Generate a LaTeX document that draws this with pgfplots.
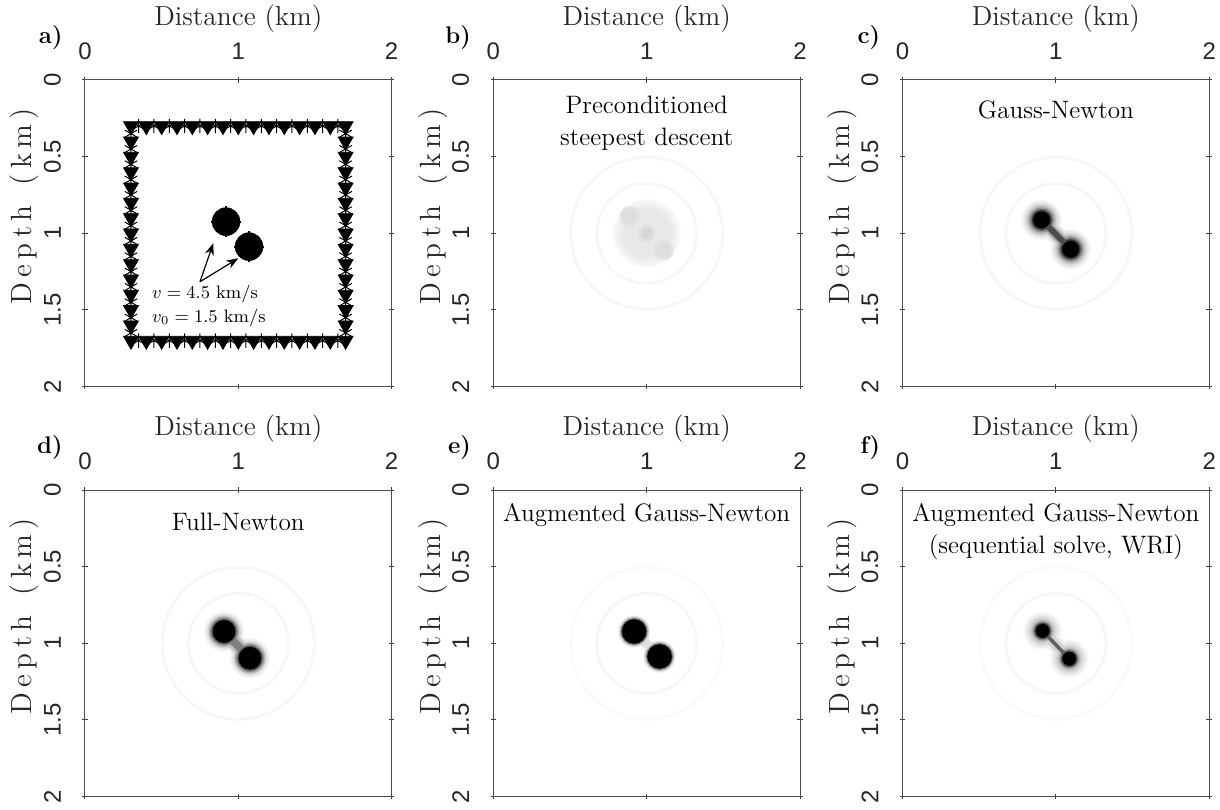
\documentclass[border=0pt]{standalone}
\usepackage{fontspec}
\usepackage{pgfplots}
\pgfplotsset{compat=1.18}
\usetikzlibrary{arrows.meta}
\newfontfamily\tickfont{Liberation Sans}
\newcommand\xlabfont{\fontsize{13.75}{14}\selectfont}
\newcommand\ylabfont{\fontsize{14.6}{15}\selectfont}
\newcommand\panfont{\fontsize{12}{12}\selectfont\bfseries}
\newcommand\titfont{\fontsize{12.6}{16}\selectfont}
\newcommand\lsp{\kern2.7pt}
\newcommand\decor[2]{%
 \node[anchor=base, font=\xlabfont, text=black!85, inner sep=0pt] at ([yshift=27pt]#1.north) {Distance (km)};
 \node[rotate=90, anchor=base west, font=\ylabfont, text=black!85, inner sep=0pt] at ([xshift=-26.7pt,yshift=-112.5pt]#1.north west) {D\lsp e\lsp p\lsp t\lsp h\lsp{} \lsp(\lsp k\lsp m\lsp)};
 \node[anchor=base east, font=\panfont, inner sep=0pt] at ([xshift=-11pt,yshift=18pt]#1.north west) {#2};
}
\pgfplotsset{
  panel/.style={
    width=153.3pt, height=153.3pt, scale only axis,
    anchor=north west, clip marker paths=true,
    xmin=0, xmax=2, ymin=0, ymax=2, y dir=reverse,
    xtick={0,1,2}, ytick={0,0.5,1,1.5,2},
    xticklabel pos=top, yticklabel pos=left,
    tick align=center, major tick length=2.8pt,
    axis line style={black!70, line width=0.5pt},
    every tick/.style={black!75, line width=0.5pt},
    /pgf/number format/assume math mode=true,
    ticklabel style={font=\tickfont\fontsize{12}{12}\selectfont, text=black!85, inner sep=0pt},
    xticklabel style={anchor=south},
    yticklabel style={rotate=90, anchor=south},
    xticklabel shift=8.5pt, yticklabel shift=10.5pt,
  },
  blob/.style n args={2}{only marks, mark=*, mark size=#1, color=#2, mark options={line width=0.2pt}},
  ring/.style n args={2}{only marks, mark=o, mark size=#1, color=#2, mark options={line width=1.5pt}},
  bridge/.style n args={2}{no marks, line width=#1, color=#2},
}
\begin{document}
\begin{tikzpicture}
\useasboundingbox (0,0) rectangle (610pt,404.5pt);

% ---------------- a) ----------------
\begin{axis}[panel, name=pa, at={(42.5pt,364.5pt)}, clip=false]
% receivers (triangles)
\addplot[only marks, mark=triangle*, mark size=4.3pt, black, mark options={rotate=180}] table {
x y
0.3 0.3
0.4 0.3
0.5 0.3
0.6 0.3
0.7 0.3
0.8 0.3
0.9 0.3
1.0 0.3
1.1 0.3
1.2 0.3
1.3 0.3
1.4 0.3
1.5 0.3
1.6 0.3
1.7 0.3
0.3 1.7
0.4 1.7
0.5 1.7
0.6 1.7
0.7 1.7
0.8 1.7
0.9 1.7
1.0 1.7
1.1 1.7
1.2 1.7
1.3 1.7
1.4 1.7
1.5 1.7
1.6 1.7
1.7 1.7
0.3 0.4
0.3 0.5
0.3 0.6
0.3 0.7
0.3 0.8
0.3 0.9
0.3 1.0
0.3 1.1
0.3 1.2
0.3 1.3
0.3 1.4
0.3 1.5
0.3 1.6
1.7 0.4
1.7 0.5
1.7 0.6
1.7 0.7
1.7 0.8
1.7 0.9
1.7 1.0
1.7 1.1
1.7 1.2
1.7 1.3
1.7 1.4
1.7 1.5
1.7 1.6
};
% sources (asterisks)
\addplot[only marks, mark=asterisk, mark size=3.6pt, black, mark options={line width=0.5pt}] table {
x y
0.35 0.3
0.45 0.3
0.55 0.3
0.65 0.3
0.75 0.3
0.85 0.3
0.95 0.3
1.05 0.3
1.15 0.3
1.25 0.3
1.35 0.3
1.45 0.3
1.55 0.3
1.65 0.3
0.35 1.7
0.45 1.7
0.55 1.7
0.65 1.7
0.75 1.7
0.85 1.7
0.95 1.7
1.05 1.7
1.15 1.7
1.25 1.7
1.35 1.7
1.45 1.7
1.55 1.7
1.65 1.7
0.3 0.35
0.3 0.45
0.3 0.55
0.3 0.65
0.3 0.75
0.3 0.85
0.3 0.95
0.3 1.05
0.3 1.15
0.3 1.25
0.3 1.35
0.3 1.45
0.3 1.55
0.3 1.65
1.7 0.35
1.7 0.45
1.7 0.55
1.7 0.65
1.7 0.75
1.7 0.85
1.7 0.95
1.7 1.05
1.7 1.15
1.7 1.25
1.7 1.35
1.7 1.45
1.7 1.55
1.7 1.65
};
\addplot[blob={7pt}{black}] coordinates {(0.92,0.924) (1.07,1.087)};
\addplot[only marks, mark=+, mark size=7.7pt, black, mark options={line width=0.9pt}] coordinates {(0.92,0.924) (1.07,1.087)};
\draw[line width=0.6pt, -{Stealth[length=6pt,width=4.5pt]}] (axis cs:0.75,1.316) -- (axis cs:0.837,1.065);
\draw[line width=0.6pt, -{Stealth[length=6pt,width=4.5pt]}] (axis cs:0.75,1.316) -- (axis cs:1.0,1.163);
\node[anchor=base west, inner sep=0pt, font=\fontsize{9}{9}\selectfont] at (axis cs:0.435,1.424) {$v = 4.5$ km/s};
\node[anchor=base west, inner sep=0pt, font=\fontsize{9}{9}\selectfont] at (axis cs:0.435,1.583) {$v_0 = 1.5$ km/s};
\end{axis}
\decor{pa}{a)}

% ---------------- b) ----------------
\begin{axis}[panel, name=pb, at={(246.7pt,364.5pt)}]
\addplot[ring={38pt}{black!3}] coordinates {(1,1)};
\addplot[ring={25pt}{black!3}] coordinates {(1,1)};
\addplot[blob={17pt}{black!2}] coordinates {(1,1)};
\addplot[blob={16pt}{black!4}] coordinates {(1,1)};
\addplot[blob={14.8pt}{black!6}] coordinates {(1,1)};
\addplot[only marks, mark=square*, mark size=10.5pt, color=black!8] coordinates {(1,1)};
\addplot[blob={13.5pt}{black!8}] coordinates {(1,1)};
\addplot[blob={12pt}{black!9}] coordinates {(1,1)};
\addplot[blob={5pt}{black!11}] coordinates {(0.89,0.89) (1.11,1.11)};
\addplot[blob={3.6pt}{black!13}] coordinates {(0.89,0.89) (1.11,1.11)};
\addplot[blob={4.2pt}{black!12}] coordinates {(1.0,1.0)};
\addplot[blob={2.8pt}{black!16}] coordinates {(1.0,1.0)};
\node[align=center, font=\titfont] at (axis cs:1,0.285) {Preconditioned\\steepest descent};
\end{axis}
\decor{pb}{b)}

% ---------------- c) ----------------
\begin{axis}[panel, name=pc, at={(451.3pt,364.5pt)}]
\addplot[ring={38pt}{black!3}] coordinates {(1,1)};
\addplot[ring={25pt}{black!3}] coordinates {(1,1)};
\addplot[blob={10pt}{black!4}] coordinates {(0.907,0.913) (1.096,1.104)};
\addplot[blob={9pt}{black!9}] coordinates {(0.907,0.913) (1.096,1.104)};
\addplot[bridge={9pt}{black!9}] coordinates {(0.907,0.913) (1.096,1.104)};
\addplot[blob={8pt}{black!16}] coordinates {(0.907,0.913) (1.096,1.104)};
\addplot[bridge={6.5pt}{black!20}] coordinates {(0.907,0.913) (1.096,1.104)};
\addplot[blob={7.1pt}{black!26}] coordinates {(0.907,0.913) (1.096,1.104)};
\addplot[blob={6.3pt}{black!40}] coordinates {(0.907,0.913) (1.096,1.104)};
\addplot[bridge={4.5pt}{black!40}] coordinates {(0.907,0.913) (1.096,1.104)};
\addplot[blob={5.5pt}{black!58}] coordinates {(0.907,0.913) (1.096,1.104)};
\addplot[blob={4.8pt}{black!78}] coordinates {(0.907,0.913) (1.096,1.104)};
\addplot[bridge={2.8pt}{black!70}] coordinates {(0.907,0.913) (1.096,1.104)};
\addplot[blob={4.1pt}{black}] coordinates {(0.907,0.913) (1.096,1.104)};
\node[font=\titfont] at (axis cs:1,0.196) {Gauss-Newton};
\end{axis}
\decor{pc}{c)}

% ---------------- d) ----------------
\begin{axis}[panel, name=pd, at={(42.5pt,159.5pt)}]
\addplot[ring={38pt}{black!3}] coordinates {(1,1)};
\addplot[ring={25pt}{black!3}] coordinates {(1,1)};
\addplot[blob={10pt}{black!4}] coordinates {(0.907,0.923) (1.076,1.097)};
\addplot[bridge={9pt}{black!8}] coordinates {(0.907,0.923) (1.076,1.097)};
\addplot[blob={9pt}{black!9}] coordinates {(0.907,0.923) (1.076,1.097)};
\addplot[blob={8.2pt}{black!17}] coordinates {(0.907,0.923) (1.076,1.097)};
\addplot[bridge={7pt}{black!25}] coordinates {(0.907,0.923) (1.076,1.097)};
\addplot[blob={7.5pt}{black!30}] coordinates {(0.907,0.923) (1.076,1.097)};
\addplot[blob={6.8pt}{black!48}] coordinates {(0.907,0.923) (1.076,1.097)};
\addplot[bridge={4pt}{black!50}] coordinates {(0.907,0.923) (1.076,1.097)};
\addplot[blob={6.1pt}{black!72}] coordinates {(0.907,0.923) (1.076,1.097)};
\addplot[blob={5.5pt}{black}] coordinates {(0.907,0.923) (1.076,1.097)};
\node[font=\titfont] at (axis cs:1,0.206) {Full-Newton};
\end{axis}
\decor{pd}{d)}

% ---------------- e) ----------------
\begin{axis}[panel, name=pe, at={(246.7pt,159.5pt)}]
\addplot[ring={38pt}{black!2}] coordinates {(1,1)};
\addplot[ring={25pt}{black!3}] coordinates {(1,1)};
\addplot[blob={8pt}{black!5}] coordinates {(0.918,0.923) (1.084,1.086)};
\addplot[bridge={5pt}{black!12}] coordinates {(0.918,0.923) (1.084,1.086)};
\addplot[blob={7.5pt}{black!14}] coordinates {(0.918,0.923) (1.084,1.086)};
\addplot[blob={7pt}{black!30}] coordinates {(0.918,0.923) (1.084,1.086)};
\addplot[blob={6.5pt}{black!60}] coordinates {(0.918,0.923) (1.084,1.086)};
\addplot[blob={6pt}{black}] coordinates {(0.918,0.923) (1.084,1.086)};
\node[font=\titfont] at (axis cs:1,0.165) {Augmented Gauss-Newton};
\end{axis}
\decor{pe}{e)}

% ---------------- f) ----------------
\begin{axis}[panel, name=pf, at={(451.3pt,159.5pt)}]
\addplot[ring={38pt}{black!2}] coordinates {(1,1)};
\addplot[ring={25pt}{black!3}] coordinates {(1,1)};
\addplot[blob={9.5pt}{black!3}] coordinates {(0.913,0.919) (1.087,1.101)};
\addplot[blob={8.5pt}{black!7}] coordinates {(0.913,0.919) (1.087,1.101)};
\addplot[bridge={8pt}{black!7}] coordinates {(0.913,0.919) (1.087,1.101)};
\addplot[blob={7.5pt}{black!12}] coordinates {(0.913,0.919) (1.087,1.101)};
\addplot[blob={6.5pt}{black!18}] coordinates {(0.913,0.919) (1.087,1.101)};
\addplot[bridge={5pt}{black!18}] coordinates {(0.913,0.919) (1.087,1.101)};
\addplot[blob={5.5pt}{black!28}] coordinates {(0.913,0.919) (1.087,1.101)};
\addplot[blob={4.7pt}{black!45}] coordinates {(0.913,0.919) (1.087,1.101)};
\addplot[bridge={1.8pt}{black!62}] coordinates {(0.913,0.919) (1.087,1.101)};
\addplot[blob={4pt}{black!72}] coordinates {(0.913,0.919) (1.087,1.101)};
\addplot[blob={3.3pt}{black}] coordinates {(0.913,0.919) (1.087,1.101)};
\node[align=center, font=\titfont] at (axis cs:1,0.27) {Augmented Gauss-Newton\\(sequential solve, WRI)};
\end{axis}
\decor{pf}{f)}
\end{tikzpicture}
\end{document}
